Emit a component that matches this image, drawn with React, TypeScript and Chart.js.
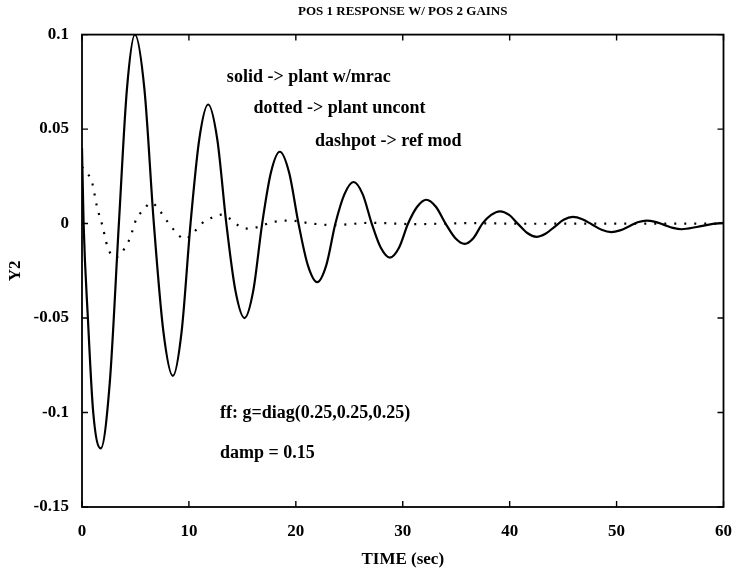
import React, { useEffect, useRef } from "react";
import { Chart, registerables } from "chart.js";

Chart.register(...registerables);

// TIME (sec) / Y2 samples (solid: plant w/mrac)
const solidT = [
  0, 0.15, 0.55, 1.05, 1.75,
  2.6, 3.45, 4.2, 4.95,
  5.84, 6.72, 7.61, 8.5,
  9.32, 10.15, 10.97, 11.8,
  12.65, 13.5, 14.35, 15.2,
  16.02, 16.85, 17.67, 18.5,
  19.37, 20.25, 21.12, 22.0,
  22.85, 23.7, 24.55, 25.4,
  26.25, 27.1, 27.95, 28.8,
  29.65, 30.5, 31.35, 32.2,
  33.1, 34.0, 34.9, 35.8,
  36.62, 37.45, 38.27, 39.1,
  39.95, 40.8, 41.65, 42.5,
  43.35, 44.2, 45.05, 45.9,
  46.8, 47.7, 48.6, 49.5,
  50.32, 51.15, 51.97, 52.8,
  53.62, 54.45, 55.27, 56.1,
  57.5, 59.0, 60,
];
const solidY = [
  0.04, 0.0, -0.05, -0.1, -0.119,
  -0.084, 0.0, 0.071, 0.1,
  0.071, 0.0, -0.057, -0.0806,
  -0.057, 0.0, 0.0447, 0.063,
  0.0447, 0.0, -0.0355, -0.05,
  -0.0355, 0.0, 0.027, 0.038,
  0.027, 0.0, -0.022, -0.031,
  -0.022, 0.0, 0.0156, 0.022,
  0.0156, 0.0, -0.0128, -0.018,
  -0.0128, 0.0, 0.0089, 0.0126,
  0.0089, 0.0, -0.0076, -0.0107,
  -0.0076, 0.0, 0.0046, 0.0065,
  0.0046, -0.0003, -0.005, -0.007,
  -0.0054, -0.0017, 0.002, 0.0035,
  0.0023, -0.0005, -0.0033, -0.0045,
  -0.0036, -0.0015, 0.0007, 0.0016,
  0.0009, -0.0007, -0.0023, -0.003,
  -0.0018, -0.0002, 0.0004,
];

// dotted: plant uncont
const dottedT = [0, 0.45, 0.95, 1.4, 1.9, 2.4, 3.1, 4.0, 4.5, 5.1, 5.6, 6.5, 7.3, 8.0, 8.7, 9.6, 10.4, 11.2, 12.1, 13.1, 13.8, 14.8, 15.6, 16.6, 17.6, 19.4, 21.5, 23.5, 27, 31, 36, 42, 50, 60];
const dottedY = [0.03, 0.027, 0.0216, 0.0089, -0.001, -0.0125, -0.018, -0.013, -0.0075, 0.0027, 0.0063, 0.011, 0.0065, 0.001, -0.004, -0.0082, -0.005, 0.0, 0.003, 0.0047, 0.0027, -0.0016, -0.0027, -0.0016, 0.0005, 0.0016, 0.0, -0.0008, 0.0004, -0.0003, 0.0002, -0.0001, 0.0, 0.0];

const xTicks = [0, 10, 20, 30, 40, 50, 60];
const yTicks = [0.1, 0.05, 0, -0.05, -0.1, -0.15];
const yTickLabels = ["0.1", "0.05", "0", "-0.05", "-0.1", "-0.15"];

const notes = [
  "solid -> plant w/mrac",
  "dotted -> plant uncont",
  "dashpot -> ref mod",
  "ff: g=diag(0.25,0.25,0.25)",
  "damp = 0.15",
];
const noteX = [13.55, 16.05, 21.8, 12.9, 12.9];
const noteY = [0.0775, 0.061, 0.0435, -0.1005, -0.1215];

const SERIF = '"Liberation Serif", "DejaVu Serif", serif';

const framePlugin = {
  id: "frame",
  afterDatasetsDraw(chart: any) {
    const { ctx, chartArea, scales } = chart;
    const { left, right, top, bottom } = chartArea;
    const x = scales.x;
    const y = scales.y;
    ctx.save();
    ctx.strokeStyle = "#000";
    ctx.lineWidth = 1.8;
    ctx.strokeRect(left, top, right - left, bottom - top);
    ctx.lineWidth = 1.4;
    ctx.beginPath();
    xTicks.forEach((v) => {
      const px = x.getPixelForValue(v);
      ctx.moveTo(px, bottom);
      ctx.lineTo(px, bottom - 6);
      ctx.moveTo(px, top);
      ctx.lineTo(px, top + 6);
    });
    yTicks.forEach((v) => {
      const py = y.getPixelForValue(v);
      ctx.moveTo(left, py);
      ctx.lineTo(left + 6, py);
      ctx.moveTo(right, py);
      ctx.lineTo(right - 6, py);
    });
    ctx.stroke();
    ctx.fillStyle = "#000";
    ctx.font = "bold 18px " + SERIF;
    ctx.textBaseline = "middle";
    ctx.textAlign = "left";
    notes.forEach((t, i) => {
      ctx.fillText(t, x.getPixelForValue(noteX[i]), y.getPixelForValue(noteY[i]));
    });
    ctx.restore();
  },
};

export default function App() {
  const ref = useRef<HTMLCanvasElement | null>(null);
  useEffect(() => {
    document.body.style.margin = "0";
    const canvas = ref.current;
    if (!canvas) return;
    const chart = new Chart(canvas, {
      type: "line",
      data: {
        datasets: [
          {
            label: "plant w/mrac",
            data: solidT.map((t, i) => ({ x: t, y: solidY[i] })),
            borderColor: "#000",
            borderWidth: 2.2,
            pointRadius: 0,
            cubicInterpolationMode: "monotone",
            fill: false,
          },
          {
            label: "plant uncont",
            data: dottedT.map((t, i) => ({ x: t, y: dottedY[i] })),
            borderColor: "#000",
            borderWidth: 2.2,
            borderDash: [2, 8],
            pointRadius: 0,
            cubicInterpolationMode: "monotone",
            fill: false,
          },
        ],
      },
      plugins: [framePlugin],
      options: {
        animation: false,
        responsive: true,
        maintainAspectRatio: false,
        layout: { padding: { left: 0, right: 14, top: 0, bottom: 0 } },
        plugins: {
          legend: { display: false },
          tooltip: { enabled: false },
          title: {
            display: true,
            text: "POS 1 RESPONSE W/ POS 2 GAINS",
            color: "#000",
            fullSize: false,
            font: { family: SERIF, size: 13, weight: "bold" },
            padding: { top: 4, bottom: 15 },
          },
        },
        scales: {
          x: {
            type: "linear",
            min: 0,
            max: 60,
            afterBuildTicks: (s: any) => {
              s.ticks = xTicks.map((v) => ({ value: v }));
            },
            afterFit: (s: any) => {
              s.height = 71;
            },
            grid: { display: false },
            border: { display: false },
            ticks: {
              color: "#000",
              padding: 6,
              maxRotation: 0,
              font: { family: SERIF, size: 17, weight: "bold" },
              callback: (v: any) => String(v),
            },
            title: {
              display: true,
              text: "TIME (sec)",
              color: "#000",
              font: { family: SERIF, size: 17, weight: "bold" },
              padding: { top: 0, bottom: 8 },
            },
          },
          y: {
            type: "linear",
            min: -0.15,
            max: 0.1,
            afterBuildTicks: (s: any) => {
              s.ticks = yTicks.map((v) => ({ value: v }));
            },
            afterFit: (s: any) => {
              s.width = 82;
            },
            grid: { display: false },
            border: { display: false },
            ticks: {
              color: "#000",
              padding: 5,
              font: { family: SERIF, size: 17, weight: "bold" },
              callback: (v: any) => {
                const i = yTicks.findIndex((t) => Math.abs(t - v) < 1e-9);
                return i >= 0 ? yTickLabels[i] : "";
              },
            },
            title: {
              display: true,
              text: "Y2",
              color: "#000",
              font: { family: SERIF, size: 17, weight: "bold" },
              padding: { top: 5, bottom: 0 },
            },
          },
        },
      },
    } as any);
    return () => chart.destroy();
  }, []);
  return (
    <div style={{ width: 738, height: 578, position: "relative" }}>
      <canvas ref={ref} />
    </div>
  );
}
